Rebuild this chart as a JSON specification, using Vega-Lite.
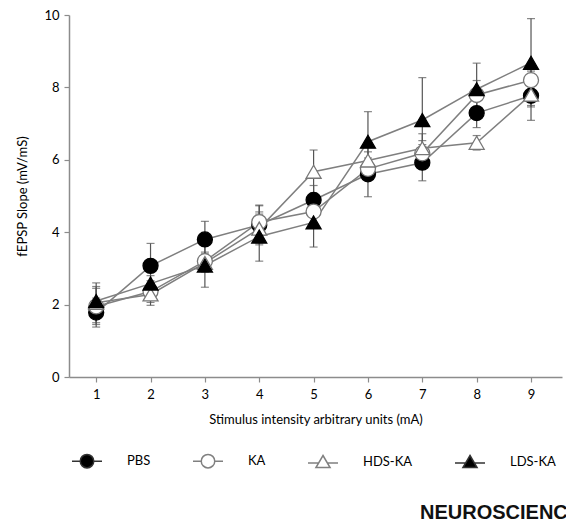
{
  "$schema": "https://vega.github.io/schema/vega-lite/v6.json",
  "width": 493,
  "height": 362,
  "autosize": {"type": "none"},
  "padding": {"left": 69, "top": 15, "right": 4, "bottom": 146},
  "background": "white",
  "config": {
    "view": {"stroke": null},
    "font": "Lato",
    "axis": {
      "grid": false,
      "domainColor": "#8c8c8c",
      "domainWidth": 1.5,
      "tickColor": "#8c8c8c",
      "tickWidth": 1.2,
      "tickSize": 5,
      "labelFont": "Lato",
      "labelFontSize": 13,
      "labelColor": "#000",
      "labelPadding": 5,
      "titleFont": "Lato",
      "titleFontSize": 13,
      "titleFontWeight": "normal",
      "titleColor": "#000"
    }
  },
  "title": {
    "text": "NEUROSCIENCE",
    "orient": "bottom",
    "anchor": "start",
    "frame": "group",
    "dx": 351,
    "offset": 32,
    "font": "Liberation Sans",
    "fontSize": 20,
    "fontWeight": "bold",
    "color": "#111"
  },
  "data": {
    "values": [
      {"x": 1, "series": "PBS", "y": 1.78, "lo": 1.38, "hi": 2.18},
      {"x": 2, "series": "PBS", "y": 3.07, "lo": 2.45, "hi": 3.69},
      {"x": 3, "series": "PBS", "y": 3.80, "lo": 3.30, "hi": 4.30},
      {"x": 4, "series": "PBS", "y": 4.20, "lo": 3.65, "hi": 4.75},
      {"x": 5, "series": "PBS", "y": 4.89, "lo": 4.49, "hi": 5.29},
      {"x": 6, "series": "PBS", "y": 5.60, "lo": 4.98, "hi": 6.22},
      {"x": 7, "series": "PBS", "y": 5.92, "lo": 5.42, "hi": 6.42},
      {"x": 8, "series": "PBS", "y": 7.29, "lo": 6.89, "hi": 7.69},
      {"x": 9, "series": "PBS", "y": 7.77, "lo": 7.09, "hi": 8.45},
      {"x": 1, "series": "KA", "y": 1.95, "lo": 1.45, "hi": 2.45},
      {"x": 2, "series": "KA", "y": 2.36, "lo": 2.06, "hi": 2.66},
      {"x": 3, "series": "KA", "y": 3.20, "lo": 2.95, "hi": 3.45},
      {"x": 4, "series": "KA", "y": 4.28, "lo": 3.83, "hi": 4.73},
      {"x": 5, "series": "KA", "y": 4.57, "lo": 4.27, "hi": 4.87},
      {"x": 6, "series": "KA", "y": 5.75, "lo": 5.45, "hi": 6.05},
      {"x": 7, "series": "KA", "y": 6.18, "lo": 5.83, "hi": 6.53},
      {"x": 8, "series": "KA", "y": 7.79, "lo": 7.39, "hi": 8.19},
      {"x": 9, "series": "KA", "y": 8.20, "lo": 7.90, "hi": 8.50},
      {"x": 1, "series": "HDS-KA", "y": 2.05, "lo": 1.50, "hi": 2.60},
      {"x": 2, "series": "HDS-KA", "y": 2.28, "lo": 1.98, "hi": 2.58},
      {"x": 3, "series": "HDS-KA", "y": 3.15, "lo": 2.90, "hi": 3.40},
      {"x": 4, "series": "HDS-KA", "y": 4.10, "lo": 3.70, "hi": 4.50},
      {"x": 5, "series": "HDS-KA", "y": 5.67, "lo": 5.07, "hi": 6.27},
      {"x": 6, "series": "HDS-KA", "y": 5.98, "lo": 5.58, "hi": 6.38},
      {"x": 7, "series": "HDS-KA", "y": 6.32, "lo": 5.92, "hi": 6.72},
      {"x": 8, "series": "HDS-KA", "y": 6.47, "lo": 6.27, "hi": 6.67},
      {"x": 9, "series": "HDS-KA", "y": 7.80, "lo": 7.50, "hi": 8.10},
      {"x": 1, "series": "LDS-KA", "y": 2.10, "lo": 1.70, "hi": 2.50},
      {"x": 2, "series": "LDS-KA", "y": 2.58, "lo": 2.36, "hi": 2.80},
      {"x": 3, "series": "LDS-KA", "y": 3.08, "lo": 2.48, "hi": 3.68},
      {"x": 4, "series": "LDS-KA", "y": 3.88, "lo": 3.20, "hi": 4.56},
      {"x": 5, "series": "LDS-KA", "y": 4.27, "lo": 3.59, "hi": 4.95},
      {"x": 6, "series": "LDS-KA", "y": 6.50, "lo": 5.67, "hi": 7.33},
      {"x": 7, "series": "LDS-KA", "y": 7.10, "lo": 5.93, "hi": 8.27},
      {"x": 8, "series": "LDS-KA", "y": 7.95, "lo": 7.23, "hi": 8.67},
      {"x": 9, "series": "LDS-KA", "y": 8.68, "lo": 7.46, "hi": 9.90}
    ]
  },
  "encoding": {
    "x": {
      "field": "x",
      "type": "quantitative",
      "scale": {"domain": [0.5, 9.57], "nice": false, "zero": false},
      "axis": {"values": [1, 2, 3, 4, 5, 6, 7, 8, 9], "title": "Stimulus intensity arbitrary units (mA)", "labelFlush": false, "titlePadding": 12, "labelPadding": 6}
    }
  },
  "layer": [
    {
      "mark": {"type": "line", "color": "#7f7f7f", "strokeWidth": 1.5},
      "encoding": {
        "y": {"field": "y", "type": "quantitative", "scale": {"domain": [0, 10], "nice": false}, "axis": {"values": [0, 2, 4, 6, 8, 10], "title": "fEPSP Slope (mV/mS)", "titlePadding": 14}},
        "detail": {"field": "series"}
      }
    },
    {
      "mark": {"type": "rule", "color": "#555", "strokeWidth": 1.2},
      "encoding": {
        "y": {"field": "lo", "type": "quantitative"},
        "y2": {"field": "hi"}
      }
    },
    {
      "mark": {"type": "tick", "orient": "horizontal", "size": 8, "thickness": 1.2, "color": "#555"},
      "encoding": {"y": {"field": "lo", "type": "quantitative"}}
    },
    {
      "mark": {"type": "tick", "orient": "horizontal", "size": 8, "thickness": 1.2, "color": "#555"},
      "encoding": {"y": {"field": "hi", "type": "quantitative"}}
    },
    {
      "mark": {"type": "point", "size": 225, "strokeWidth": 1.3, "opacity": 1},
      "encoding": {
        "y": {"field": "y", "type": "quantitative"},
        "shape": {"field": "series", "type": "nominal", "scale": {"domain": ["PBS", "KA", "HDS-KA", "LDS-KA"], "range": ["circle", "circle", "triangle-up", "triangle-up"]}, "legend": null},
        "fill": {"field": "series", "type": "nominal", "scale": {"domain": ["PBS", "KA", "HDS-KA", "LDS-KA"], "range": ["#000", "#fff", "#fff", "#000"]}, "legend": null},
        "stroke": {"field": "series", "type": "nominal", "scale": {"domain": ["PBS", "KA", "HDS-KA", "LDS-KA"], "range": ["#000", "#777", "#777", "#000"]}, "legend": null}
      }
    },
    {
      "transform": [{"filter": "false"}],
      "mark": {"type": "point", "strokeWidth": 1.5, "opacity": 1},
      "encoding": {
        "y": {"field": "y", "type": "quantitative"},
        "shape": {"field": "series", "type": "nominal", "scale": {"domain": ["PBS", "KA", "HDS-KA", "LDS-KA"], "range": [
          "M-1,0L-0.45,0M0.45,0L1,0M-0.45,0A0.45,0.45 0 1,0 0.45,0A0.45,0.45 0 1,0 -0.45,0Z",
          "M-1,0L-0.45,0M0.45,0L1,0M-0.45,0A0.45,0.45 0 1,0 0.45,0A0.45,0.45 0 1,0 -0.45,0Z",
          "M-1,0.1L-0.29,0.1M0.29,0.1L1,0.1M0,-0.4L0.47,0.4L-0.47,0.4Z",
          "M-1,0.1L-0.29,0.1M0.29,0.1L1,0.1M0,-0.4L0.47,0.4L-0.47,0.4Z"
        ]}, "legend": {"orient": "none", "legendX": 2, "legendY": 430, "direction": "horizontal", "title": null, "symbolSize": 900, "symbolStrokeWidth": 1.5, "labelOffset": 24, "columnPadding": 39, "labelFont": "Lato", "labelFontSize": 13, "labelColor": "#000"}},
        "fill": {"field": "series", "type": "nominal", "scale": {"domain": ["PBS", "KA", "HDS-KA", "LDS-KA"], "range": ["#000", "#fff", "#fff", "#000"]}, "legend": {"orient": "none", "legendX": 2, "legendY": 430, "direction": "horizontal", "title": null, "symbolSize": 900, "symbolStrokeWidth": 1.5, "labelOffset": 24, "columnPadding": 39, "labelFont": "Lato", "labelFontSize": 13, "labelColor": "#000"}},
        "stroke": {"field": "series", "type": "nominal", "scale": {"domain": ["PBS", "KA", "HDS-KA", "LDS-KA"], "range": ["#333", "#808080", "#808080", "#333"]}, "legend": {"orient": "none", "legendX": 2, "legendY": 430, "direction": "horizontal", "title": null, "symbolSize": 900, "symbolStrokeWidth": 1.5, "labelOffset": 24, "columnPadding": 39, "labelFont": "Lato", "labelFontSize": 13, "labelColor": "#000"}}
      }
    }
  ],
  "resolve": {"scale": {"shape": "independent", "fill": "independent", "stroke": "independent"}}
}
